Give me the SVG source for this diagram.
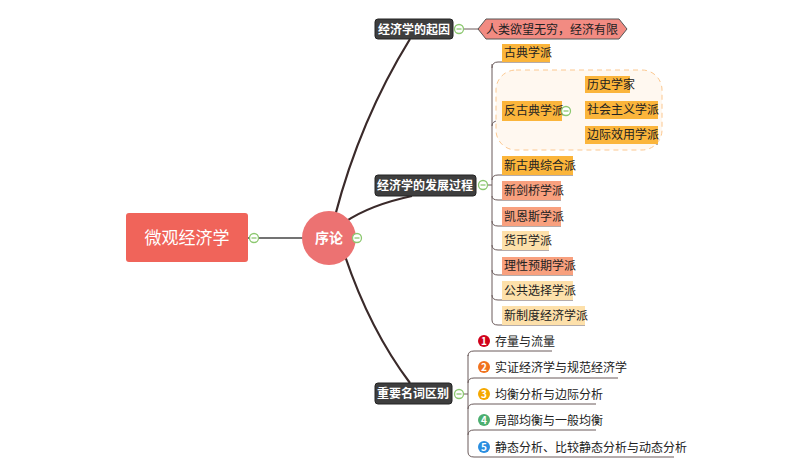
<svg xmlns="http://www.w3.org/2000/svg" width="800" height="471" viewBox="0 0 800 471">
<style>
text{font-family:"Noto Sans CJK SC","Liberation Sans",sans-serif;font-size:12px;fill:#222}
.dk{fill:#3e3e3e;stroke:#222}
.dt{fill:#fff;font-weight:bold}
.or{fill:#fbb53b}
.sa{fill:#f8a07e}
.lt{fill:#fde0aa}
.br{fill:none;stroke:#6a5a5a;stroke-width:1}
.cl{fill:#fff;stroke:#8cc870;stroke-width:1.3}
.main{fill:none;stroke:#3a2a2a;stroke-width:2.2}
</style>
<defs>
<g id="mn"><circle r="4.5" class="cl"/><line x1="-2.5" x2="2.5" stroke="#8cc870" stroke-width="1.3"/></g>
</defs>
<g id="connectors">
<line x1="248" y1="238" x2="304" y2="238" stroke="#444" stroke-width="1.5"/>
<path class="main" d="M335 216 Q360 120 410 39"/>
<path class="main" d="M345 222 Q370 205 412 196"/>
<path class="main" d="M345 256 Q370 330 410 383"/>
<line x1="463" y1="29" x2="480" y2="29" class="br"/>
<path class="br" d="M487 185 H492 M492 64 V320 Q492 325 498 325 H585 M492 68 Q492 62 498 62 H550 M492 126 Q492 121 498 121 H566 M492 180 Q492 175 498 175 H573 M492 196 Q492 200 498 200 H561 M492 221 Q492 226 498 226 H561 M492 245 Q492 250 498 250 H549 M492 270 Q492 275 498 275 H573 M492 295 Q492 300 498 300 H573"/>
<path class="br" d="M570 121 Q578 121 580 105 Q582 93 590 93 H630 M570 121 H658 M570 121 Q578 121 580 135 Q582 144 590 144 H658"/>
<path class="br" d="M463 394 H468 M468 355 V452 Q468 457 474 457 H674 M468 356 Q468 351 474 351 H552 M468 383 Q468 378 474 378 H618 M468 409 Q468 404 474 404 H596 M468 435 Q468 430 474 430 H596"/>
</g>
<g id="root"><rect x="126" y="213" width="122" height="49" rx="3" fill="#f0645a"/><text x="187" y="244" text-anchor="middle" style="font-size:17px;fill:#fff">微观经济学</text><use href="#mn" x="254" y="238"/></g>
<g id="xulun"><circle cx="329" cy="238" r="27" fill="#ec7272"/><text x="329" y="243" text-anchor="middle" class="dt" style="font-size:14px">序论</text><use href="#mn" x="357" y="238"/></g>
<g id="qiyin"><rect x="375" y="19" width="78" height="20" rx="3" class="dk"/><text x="414" y="34" text-anchor="middle" class="dt">经济学的起因</text><use href="#mn" x="459" y="29"/></g>
<g id="yuwang"><path d="M486 19 H619 L627 29 L619 39 H486 L478 29 Z" fill="#f28b82" stroke="#555"/><text x="552" y="34" text-anchor="middle">人类欲望无穷，经济有限</text></g>
<g id="fazhan"><rect x="375" y="175" width="101" height="21" rx="3" class="dk"/><text x="425" y="190" text-anchor="middle" class="dt">经济学的发展过程</text><use href="#mn" x="483" y="185"/></g>
<g id="boundary"><rect x="496" y="70" width="166" height="80" rx="20" fill="#fff8f0" stroke="#fcc890" stroke-dasharray="5,4"/></g>
<g id="gudian"><rect x="502" y="44" width="48" height="18" class="or"/><text x="504" y="57">古典学派</text></g>
<g id="fangudian"><rect x="502" y="101" width="60" height="20" class="or"/><text x="504" y="115">反古典学派</text><use href="#mn" x="566" y="111"/></g>
<g id="lishi"><rect x="585" y="76" width="45" height="17" class="or"/><text x="587" y="89">历史学家</text></g>
<g id="shehui"><rect x="585" y="101" width="73" height="18" class="or"/><text x="587" y="114">社会主义学派</text></g>
<g id="bianji"><rect x="585" y="126" width="73" height="18" class="or"/><text x="587" y="139">边际效用学派</text></g>
<g id="xingudian"><rect x="502" y="156" width="71" height="19" class="or"/><text x="504" y="170">新古典综合派</text></g>
<g id="xinjianqiao"><rect x="502" y="181" width="59" height="19" class="sa"/><text x="504" y="195">新剑桥学派</text></g>
<g id="kaien"><rect x="502" y="207" width="59" height="19" class="sa"/><text x="504" y="221">凯恩斯学派</text></g>
<g id="huobi"><rect x="502" y="231" width="47" height="19" class="lt"/><text x="504" y="245">货币学派</text></g>
<g id="lixing"><rect x="502" y="257" width="71" height="18" class="sa"/><text x="504" y="270">理性预期学派</text></g>
<g id="gonggong"><rect x="502" y="281" width="71" height="19" class="lt"/><text x="504" y="295">公共选择学派</text></g>
<g id="xinzhidu"><rect x="502" y="306" width="83" height="19" class="lt"/><text x="504" y="320">新制度经济学派</text></g>
<g id="mingci"><rect x="375" y="383" width="77" height="21" rx="3" class="dk"/><text x="413" y="398" text-anchor="middle" class="dt">重要名词区别</text><use href="#mn" x="459" y="394"/></g>
<g id="i1"><circle cx="484" cy="341" r="6" fill="#d0021b"/><text x="484" y="345" text-anchor="middle" style="fill:#fff;font-size:10px;font-weight:bold">1</text><text x="495" y="346">存量与流量</text></g>
<g id="i2"><circle cx="484" cy="367" r="6" fill="#f0721e"/><text x="484" y="371" text-anchor="middle" style="fill:#fff;font-size:10px;font-weight:bold">2</text><text x="495" y="372">实证经济学与规范经济学</text></g>
<g id="i3"><circle cx="484" cy="394" r="6" fill="#f5a800"/><text x="484" y="398" text-anchor="middle" style="fill:#fff;font-size:10px;font-weight:bold">3</text><text x="495" y="399">均衡分析与边际分析</text></g>
<g id="i4"><circle cx="484" cy="420" r="6" fill="#4caf70"/><text x="484" y="424" text-anchor="middle" style="fill:#fff;font-size:10px;font-weight:bold">4</text><text x="495" y="425">局部均衡与一般均衡</text></g>
<g id="i5"><circle cx="484" cy="447" r="6" fill="#2a8ee0"/><text x="484" y="451" text-anchor="middle" style="fill:#fff;font-size:10px;font-weight:bold">5</text><text x="495" y="452">静态分析、比较静态分析与动态分析</text></g>
</svg>
